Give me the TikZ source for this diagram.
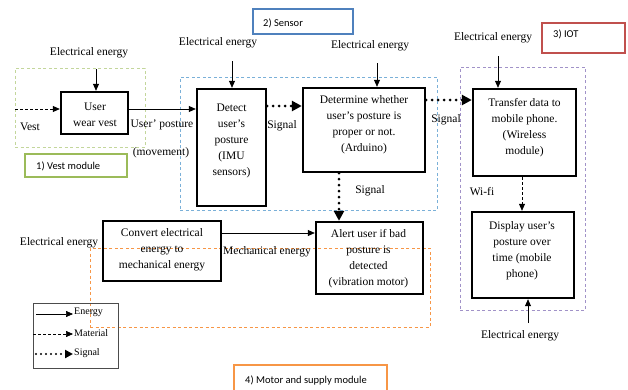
\documentclass[tikz,border=0pt]{standalone}
\usepackage{fontspec}
\setmainfont{Liberation Serif}
\newfontfamily\calfont{Carlito}
\usetikzlibrary{arrows.meta}
\definecolor{vestg}{HTML}{C3D69B}
\definecolor{vestlab}{HTML}{9BBB59}
\definecolor{sensb}{HTML}{7AB0D8}
\definecolor{senslab}{HTML}{4F81BD}
\definecolor{iotp}{HTML}{A192C8}
\definecolor{iotlab}{HTML}{C0504D}
\definecolor{motoro}{HTML}{F79646}
\tikzset{
  box/.style={draw=black, line width=2.4pt, minimum width=#1, inner sep=0pt},
  txt/.style={align=center, inner sep=0pt, font=\fontsize{11.5}{16}\selectfont},
  lbl/.style={inner sep=0pt, font=\fontsize{11.5}{14}\selectfont},
  modbox/.style={draw, dashed, line width=0.8pt, dash pattern=on 3pt off 2.5pt, inner sep=0pt},
  labbox/.style={draw, line width=2pt, inner sep=0pt},
  labtxt/.style={anchor=west, inner sep=0pt, font=\calfont\fontsize{10.5}{12}\selectfont},
  energy/.style={draw=black, line width=0.7pt, -{Triangle[length=7pt,width=6pt]}},
  material/.style={draw=black, line width=0.7pt, dash pattern=on 3pt off 2pt, -{Triangle[length=7pt,width=6pt]}},
  signal/.style={draw=black, line width=3pt, line cap=round, dash pattern=on 0pt off 6pt, -{Triangle[length=10pt,width=10pt]}},
  legtxt/.style={anchor=west, inner sep=0pt, font=\fontsize{10}{12}\selectfont},
}
\begin{document}
\begin{tikzpicture}[x=1pt,y=-1pt]
\useasboundingbox[fill=white] (0,0) rectangle (628,389);

% module dashed boxes
\node[modbox, draw=vestg, minimum width=130, minimum height=79] (vestmod) at (80,107.5) {};
\node[modbox, draw=sensb, minimum width=257, minimum height=133] (sensmod) at (308.5,143.5) {};
\node[modbox, draw=iotp, minimum width=125, minimum height=243] (iotmod) at (522.5,188.5) {};
\node[modbox, draw=motoro, minimum width=340, minimum height=79] (motmod) at (260,287.5) {};

% module label boxes
\node[labbox, draw=vestlab, line width=2.5pt, minimum width=102, minimum height=23] (vestlabbox) at (76,165.5) {};
\node[labtxt] (vestlabt) at (36,166) {1) Vest module};
\node[labbox, draw=senslab, minimum width=100, minimum height=25] (senslabbox) at (303,21.5) {};
\node[labtxt] (senslabt) at (263,23) {2) Sensor};
\node[labbox, draw=iotlab, minimum width=83, minimum height=30] (iotlabbox) at (583.5,38) {};
\node[labtxt] (iotlabt) at (553,34) {3) IOT};
\node[labbox, draw=motoro, line width=2.5pt, minimum width=153, minimum height=34] (motlabbox) at (310.5,382) {};
\node[labtxt] (motlabt) at (245,380) {4) Motor and supply module};

% main boxes
\node[box=67, minimum height=42] (user) at (94.5,113) {};
\node[txt] (usert) at (95,115) {User\\wear vest};
\node[box=69, minimum height=117] (detect) at (231.5,147.5) {};
\node[txt] (detectt) at (231.5,141) {Detect\\user's\\posture\\(IMU\\sensors)};
\node[box=122, minimum height=84] (determine) at (364,130) {};
\node[txt] (determinet) at (364,125) {Determine whether\\user's posture is\\proper or not.\\(Arduino)};
\node[box=103, minimum height=87] (transfer) at (524.5,132.5) {};
\node[txt] (transfert) at (524.5,127.5) {Transfer data to\\mobile phone.\\(Wireless\\module)};
\node[box=102, minimum height=86] (display) at (523,255) {};
\node[txt] (displayt) at (522,250.5) {Display user's\\posture over\\time (mobile\\phone)};
\node[box=118, minimum height=60] (convert) at (162,251) {};
\node[txt] (convertt) at (162,250) {Convert electrical\\energy to\\mechanical energy};
\node[box=107, minimum height=72] (alert) at (369.5,258) {};
\node[txt] (alertt) at (368.5,259) {Alert user if bad\\posture is\\detected\\(vibration motor)};

% labels
\node[lbl] (ee1) at (89,53) {Electrical energy};
\node[lbl] (ee2) at (218,43) {Electrical energy};
\node[lbl] (ee3) at (370,46) {Electrical energy};
\node[lbl] (ee4) at (493,38) {Electrical energy};
\node[lbl] (ee5) at (520,336) {Electrical energy};
\node[lbl] (ee6) at (59,243) {Electrical energy};
\node[lbl] (vestl) at (30,127) {Vest};
\node[lbl] (posturel) at (162,125) {User' posture};
\node[lbl] (movel) at (161,153) {(movement)};
\node[lbl] (sig1) at (282,126) {Signal};
\node[lbl] (sig2) at (446,120) {Signal};
\node[lbl] (sig3) at (370,191) {Signal};
\node[lbl] (wifi) at (482,192) {Wi-fi};
\node[lbl] (mech) at (267,252) {Mechanical energy};

% helper coordinates
\coordinate (c1) at (96,69);
\coordinate (c2) at (232,61);
\coordinate (c3) at (377,63);
\coordinate (c4) at (498,56);
\coordinate (c5) at (528,323);
\coordinate (cvest) at (15,109);
\coordinate (ysig1) at (0,106);
\coordinate (ysig2) at (0,100);
\coordinate (xsig3) at (339,0);
\coordinate (xwifi) at (522,0);
\coordinate (ymech) at (0,233);

% connectors
\draw[energy] (c1) -- (c1 |- user.north);
\draw[energy] (c2) -- (c2 |- detect.north);
\draw[energy] (c3) -- (c3 |- determine.north);
\draw[energy] (c4) -- (c4 |- transfer.north);
\draw[energy] (c5) -- (c5 |- display.south);
\draw[material] (cvest) -- (user.west |- cvest);
\draw[energy] (user.east |- cvest) -- (detect.west |- cvest);
\draw[signal] (detect.east |- ysig1) -- (determine.west |- ysig1);
\draw[signal] (determine.east |- ysig2) -- (transfer.west |- ysig2);
\draw[signal] (determine.south -| xsig3) -- (alert.north -| xsig3);
\draw[material] (transfer.south -| xwifi) -- (display.north -| xwifi);
\draw[energy] (convert.east |- ymech) -- (alert.west |- ymech);

% legend
\node[draw=black!70, line width=0.7pt, minimum width=85, minimum height=65, inner sep=0pt] (legend) at (75.5,335.5) {};
\coordinate (l1) at (36,314);
\coordinate (l2) at (33,334);
\coordinate (l3) at (36,354);
\coordinate (le1) at (73,314);
\coordinate (le2) at (73,334);
\coordinate (le3) at (73,354);
\draw[energy] (l1) -- (le1);
\draw[material] (l2) -- (le2);
\draw[signal, line width=2.2pt, dash pattern=on 0pt off 5pt, -{Triangle[length=8pt,width=8pt]}] (l3) -- (le3);
\node[legtxt] (legE) at (74,312) {Energy};
\node[legtxt] (legM) at (74,333) {Material};
\node[legtxt] (legS) at (74,353) {Signal};
\end{tikzpicture}
\end{document}
